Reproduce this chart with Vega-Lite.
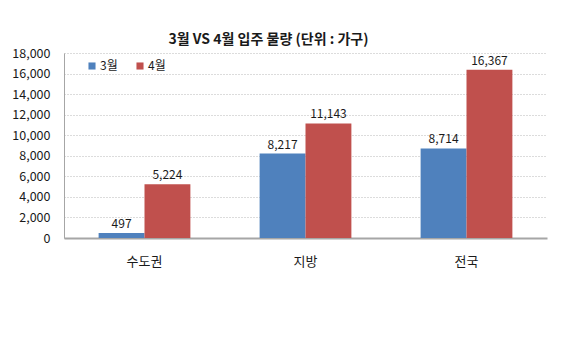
{
  "$schema": "https://vega.github.io/schema/vega-lite/v6.json",
  "width": 483,
  "height": 185,
  "autosize": {"type": "none"},
  "padding": {"left": 64, "top": 53, "right": 17, "bottom": 99},
  "background": "white",
  "config": {
    "font": "Noto Sans CJK KR",
    "view": {"stroke": null}
  },
  "title": {
    "text": "3월 VS 4월 입주 물량 (단위 : 가구)",
    "fontSize": 14,
    "fontWeight": "bold",
    "color": "#1a1a1a",
    "anchor": "middle",
    "dx": -37,
    "offset": 0
  },
  "data": {
    "values": [
      {"region": "수도권", "month": "3월", "value": 497},
      {"region": "수도권", "month": "4월", "value": 5224},
      {"region": "지방", "month": "3월", "value": 8217},
      {"region": "지방", "month": "4월", "value": 11143},
      {"region": "전국", "month": "3월", "value": 8714},
      {"region": "전국", "month": "4월", "value": 16367}
    ]
  },
  "encoding": {
    "x": {
      "field": "region",
      "type": "nominal",
      "sort": ["수도권", "지방", "전국"],
      "scale": {"paddingInner": 0.43, "paddingOuter": 0.215},
      "axis": {
        "title": null,
        "labelAngle": 0,
        "labelFontSize": 13,
        "labelColor": "#1a1a1a",
        "labelPadding": 17,
        "ticks": false,
        "domainColor": "#a6a6a6",
        "domainWidth": 2
      }
    },
    "xOffset": {"field": "month", "type": "nominal", "sort": ["3월", "4월"]},
    "y": {
      "field": "value",
      "type": "quantitative",
      "scale": {"domain": [0, 18000]},
      "axis": {
        "title": null,
        "values": [0, 2000, 4000, 6000, 8000, 10000, 12000, 14000, 16000, 18000],
        "format": ",.0f",
        "labelFontSize": 12.5,
        "labelColor": "#1a1a1a",
        "labelPadding": 14,
        "ticks": false,
        "domainColor": "#a6a6a6",
        "gridColor": "#b8b8b8",
        "gridDash": [1, 2],
        "gridWidth": 1
      }
    }
  },
  "layer": [
    {
      "mark": {"type": "bar"},
      "encoding": {
        "color": {
          "field": "month",
          "type": "nominal",
          "sort": ["3월", "4월"],
          "scale": {"range": ["#4F81BD", "#C0504D"]},
          "legend": {
            "title": null,
            "orient": "none",
            "legendX": 22,
            "legendY": 7,
            "direction": "horizontal",
            "symbolType": "square",
            "symbolSize": 50,
            "symbolStrokeWidth": 0,
            "labelFontSize": 12,
            "labelColor": "#1a1a1a",
            "labelOffset": 2,
            "columnPadding": 16
          }
        }
      }
    },
    {
      "mark": {"type": "text", "dy": -9, "fontSize": 12, "color": "#1a1a1a"},
      "encoding": {
        "text": {"field": "value", "type": "quantitative", "format": ","}
      }
    }
  ]
}
